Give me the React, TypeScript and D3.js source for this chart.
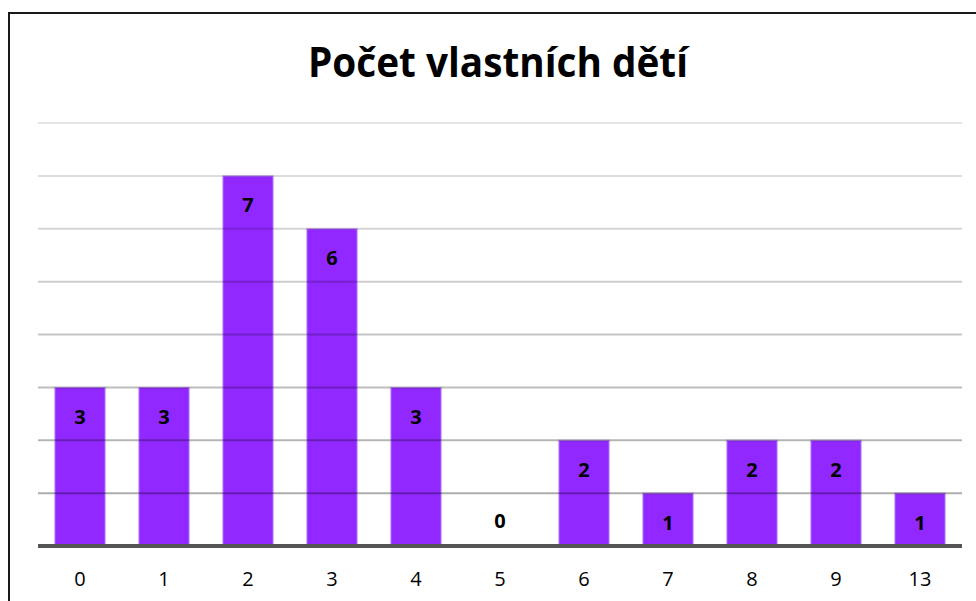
import React, { useEffect, useRef } from 'react';
import * as d3 from 'd3';

const TITLE = 'Počet vlastních dětí';
const CATEGORIES = ['0', '1', '2', '3', '4', '5', '6', '7', '8', '9', '13'];
const COUNTS = [3, 3, 7, 6, 3, 0, 2, 1, 2, 2, 1];
const GRID_TICKS = [1, 2, 3, 4, 5, 6, 7, 8];

const W = 976;
const H = 601;

export default function App() {
  const svgRef = useRef<SVGSVGElement>(null);

  useEffect(() => {
    document.body.style.margin = '0';
    const svg = d3.select(svgRef.current);
    svg.selectAll('*').remove();

    const left = 38, right = 962, base = 546, top = 123;
    const font = '"Open Sans", "Liberation Sans", sans-serif';

    const x = d3.scaleBand<string>()
      .domain(CATEGORIES)
      .range([left, right])
      .paddingInner(0.4)
      .paddingOuter(0.2);
    const y = d3.scaleLinear().domain([0, 8]).range([base, top]);

    // rámeček
    svg.append('rect')
      .attr('x', 9).attr('y', 13)
      .attr('width', W + 20).attr('height', H + 20)
      .attr('fill', '#fff')
      .attr('stroke', '#1a1a1a').attr('stroke-width', 2);

    svg.append('text')
      .attr('x', 498).attr('y', 77)
      .attr('text-anchor', 'middle')
      .attr('font-family', font)
      .attr('font-weight', 700)
      .attr('font-size', 41)
      .attr('textLength', 380)
      .attr('lengthAdjust', 'spacingAndGlyphs')
      .attr('fill', '#000')
      .text(TITLE);

    // sloupce
    svg.append('g').selectAll('rect')
      .data(COUNTS)
      .join('rect')
        .attr('x', (d, i) => x(CATEGORIES[i])!)
        .attr('y', d => y(d))
        .attr('width', x.bandwidth())
        .attr('height', d => base - y(d))
        .attr('fill', '#9128ff')
        .attr('stroke', '#cfa6ff')
        .attr('stroke-width', 1);

    // mřížka přes sloupce
    const gridOpacity = d3.scaleLinear().domain([1, 8]).range([0.32, 0.1]);
    svg.append('g').selectAll('line')
      .data(GRID_TICKS)
      .join('line')
        .attr('x1', left).attr('x2', right)
        .attr('y1', d => y(d)).attr('y2', d => y(d))
        .attr('stroke', '#000')
        .attr('stroke-opacity', d => gridOpacity(d))
        .attr('stroke-width', 2);

    svg.append('line')
      .attr('x1', left).attr('x2', right)
      .attr('y1', base).attr('y2', base)
      .attr('stroke', '#555').attr('stroke-width', 4);

    // hodnoty
    svg.append('g').selectAll('text')
      .data(COUNTS)
      .join('text')
        .attr('x', (d, i) => x(CATEGORIES[i])! + x.bandwidth() / 2)
        .attr('y', d => d > 0 ? y(d) + 29 : base - 26)
        .attr('text-anchor', 'middle')
        .attr('dominant-baseline', 'central')
        .attr('font-family', font)
        .attr('font-weight', 700)
        .attr('font-size', 20)
        .attr('fill', '#000')
        .text(d => d);

    // osa x
    const xAxis = svg.append('g')
      .attr('transform', `translate(0,${base})`)
      .call(d3.axisBottom(x).tickSize(0).tickPadding(0));
    xAxis.select('.domain').remove();
    xAxis.attr('font-size', 20).attr('font-family', font);
    xAxis.selectAll('text')
      .attr('y', 32)
      .attr('dy', null)
      .attr('dominant-baseline', 'central')
      .attr('font-family', font)
      .attr('font-size', 20)
      .attr('fill', '#000');
  }, []);

  return (
    <div style={{ position: 'absolute', left: 0, top: 0, width: W, height: H, overflow: 'hidden' }}>
      <svg ref={svgRef} width={W} height={H} style={{ display: 'block' }} />
    </div>
  );
}
